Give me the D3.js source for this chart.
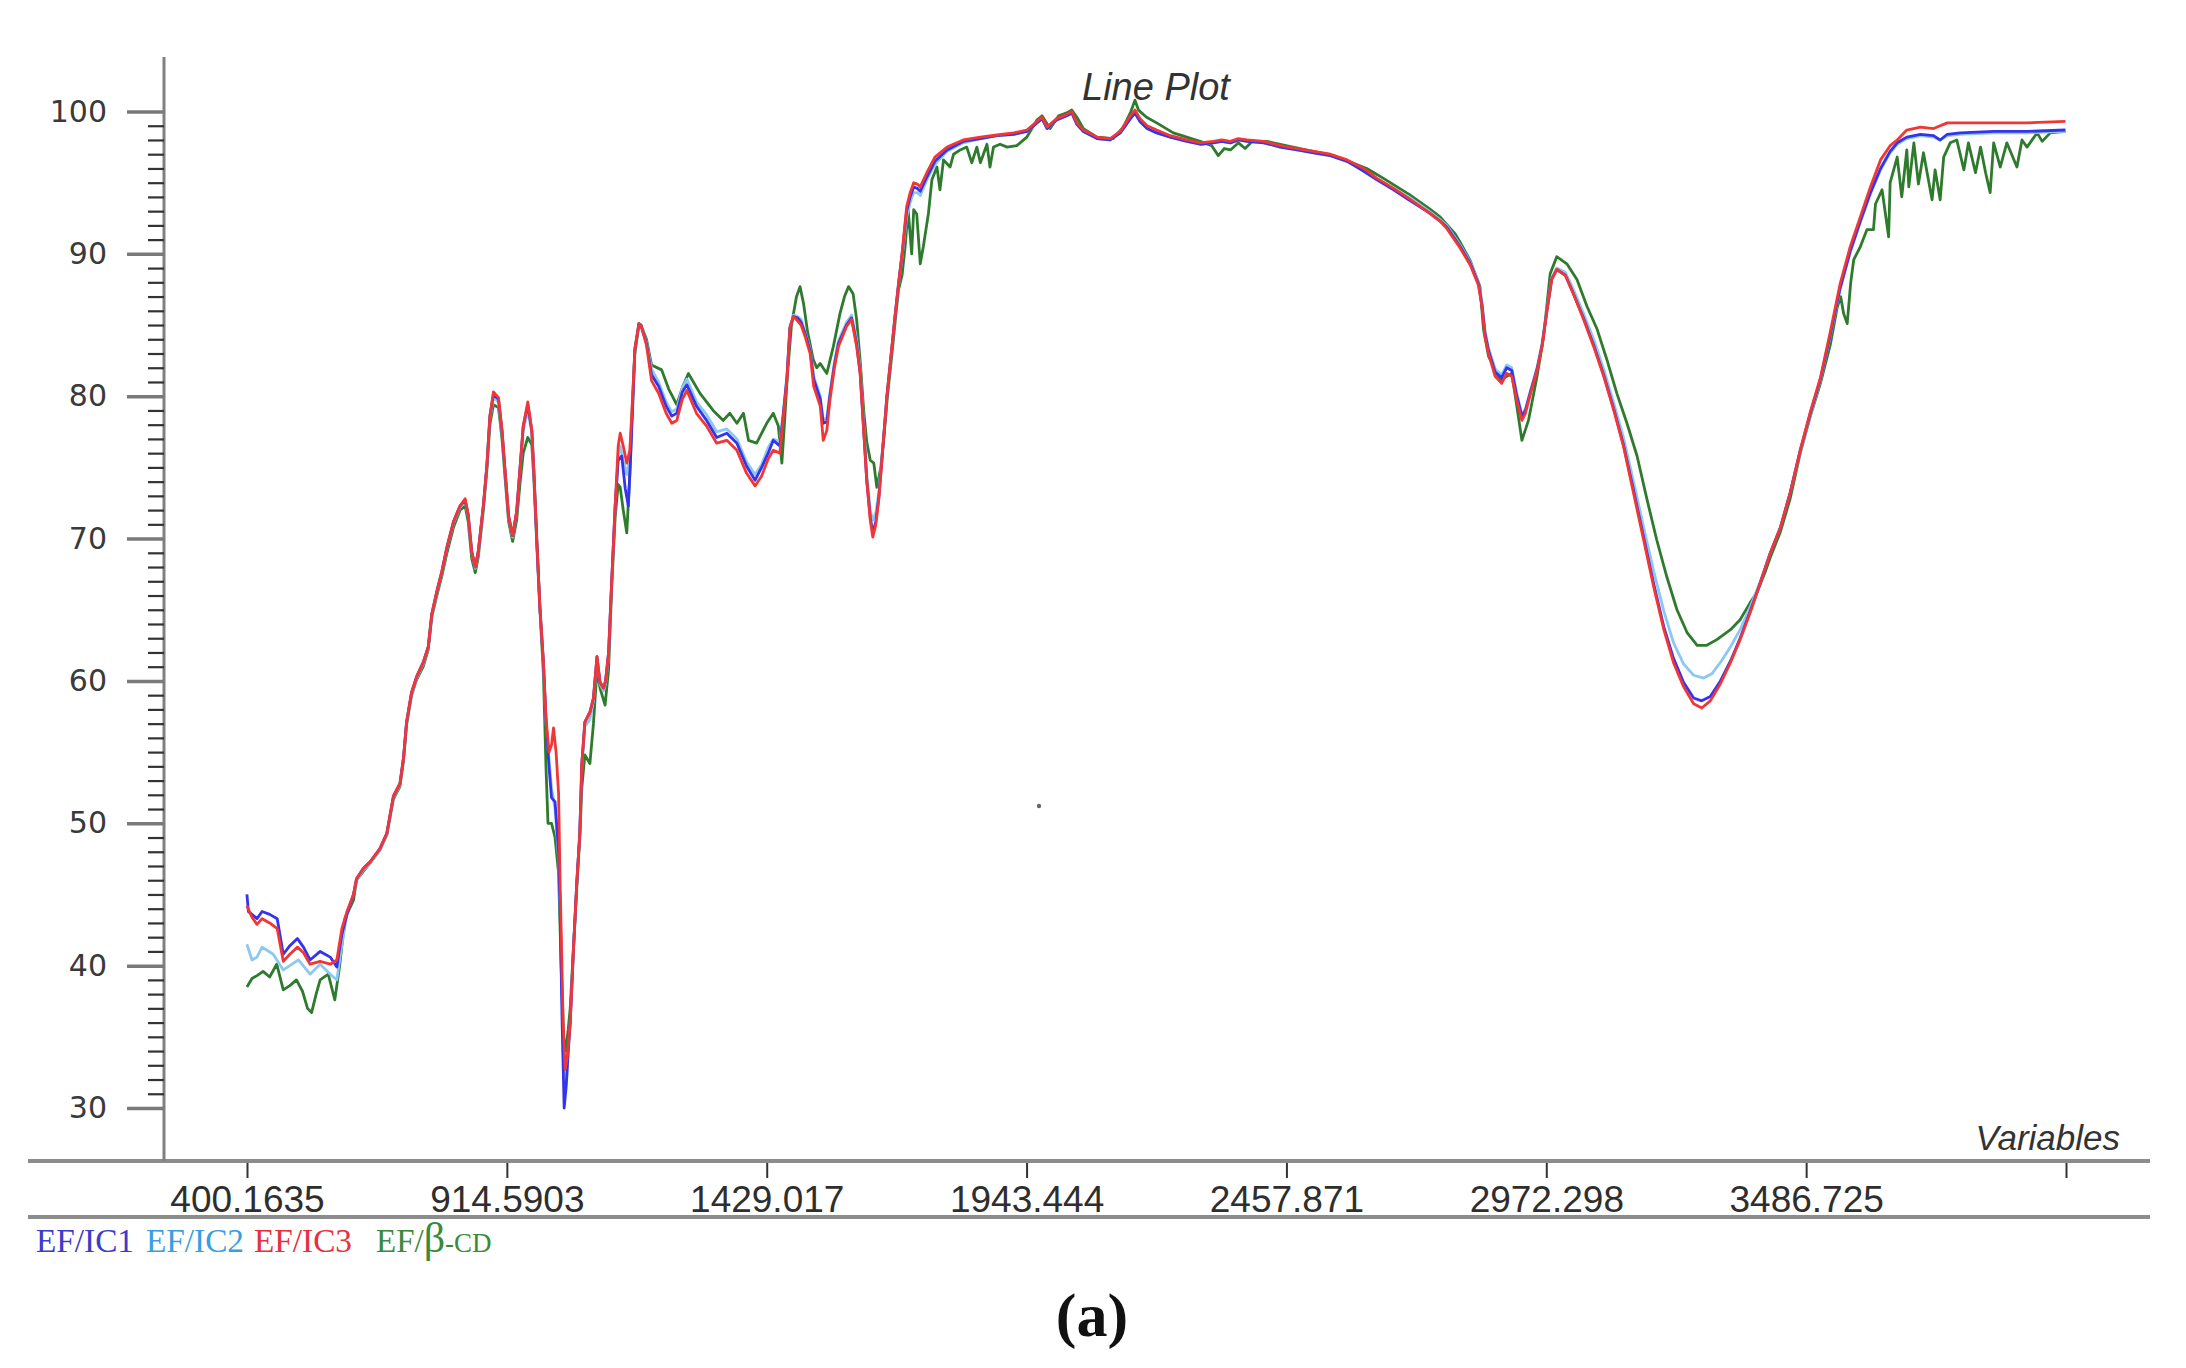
<!DOCTYPE html>
<html><head><meta charset="utf-8">
<script src="https://cdn.jsdelivr.net/npm/d3@7"></script>
<style>body{margin:0;background:#fff}svg{display:block}</style>
</head><body>
<svg id="chart" width="2186" height="1368"></svg>
<script>
// ---- data ----
const seriesNames = ["EF/IC1", "EF/IC2", "EF/IC3", "EF/β-CD"];
const xTickValues = [400.1635, 914.5903, 1429.0171, 1943.4439, 2457.8707, 2972.2975, 3486.7243, 4001.1511];
const xTickLabels = ["400.1635", "914.5903", "1429.017", "1943.444", "2457.871", "2972.298", "3486.725", ""];
const yMajorTicks = [30, 40, 50, 60, 70, 80, 90, 100];
const yMinorTicks = [31,32,33,34,35,36,37,38,39,41,42,43,44,45,46,47,48,49,51,52,53,54,55,56,57,58,59,61,62,63,64,65,66,67,68,69,71,72,73,74,75,76,77,78,79,81,82,83,84,85,86,87,88,89,91,92,93,94,95,96,97,98,99];

const ef_ic3 = [
[400,44.2],[410,43.4],[420,42.9],[430,43.3],[445,43.0],[460,42.6],[472,40.3],[485,40.8],[500,41.3],[512,40.9],[525,40.1],[545,40.3],[565,40.1],[578,40.4],[588,42.6],[598,43.8],[611,45.0],[617,46.1],[630,46.8],[644,47.3],[663,48.2],[677,49.3],[690,51.9],[703,52.8],[710,54.6],[716,57.1],[726,59.2],[736,60.3],[749,61.3],[759,62.4],[766,64.7],[776,66.3],[786,67.7],[796,69.4],[809,71.2],[822,72.3],[832,72.8],[838,71.7],[845,69.1],[852,68.0],[858,69.1],[868,72.3],[875,75.1],[881,78.6],[888,80.3],[898,79.9],[905,77.6],[911,74.8],[918,71.6],[926,70.2],[934,71.9],[941,75.1],[947,77.9],[956,79.6],[964,77.6],[968,74.8],[974,69.8],[980,65.2],[987,61.3],[992,57.4],[998,55.0],[1003,55.5],[1007,56.7],[1012,55.0],[1017,52.1],[1020,45.8],[1026,36.0],[1030,32.7],[1034,33.5],[1040,36.0],[1046,40.8],[1053,45.8],[1059,49.3],[1063,54.2],[1069,57.1],[1079,57.8],[1086,58.8],[1093,61.7],[1099,59.9],[1106,59.5],[1110,60.0],[1116,62.0],[1122,66.9],[1129,72.3],[1135,76.5],[1139,77.4],[1145,76.5],[1152,75.3],[1158,76.2],[1162,78.8],[1168,83.3],[1176,85.1],[1180,85.0],[1191,83.6],[1201,81.1],[1215,80.2],[1230,78.8],[1241,78.1],[1251,78.3],[1262,79.8],[1271,80.4],[1290,78.8],[1310,77.9],[1330,76.7],[1350,76.9],[1370,76.2],[1389,74.6],[1406,73.7],[1419,74.4],[1432,75.6],[1442,76.2],[1455,76.0],[1462,78.6],[1469,81.1],[1475,84.8],[1482,85.6],[1490,85.3],[1497,85.0],[1505,84.2],[1515,83.0],[1522,80.7],[1535,79.3],[1541,76.9],[1548,77.6],[1554,79.7],[1563,82.0],[1571,83.5],[1587,84.9],[1597,85.4],[1607,83.5],[1614,81.6],[1621,77.6],[1627,74.1],[1634,71.3],[1639,70.1],[1645,71.0],[1651,72.8],[1657,75.5],[1667,80.0],[1677,83.5],[1683,85.6],[1690,87.9],[1697,90.0],[1706,93.3],[1713,94.3],[1720,95.0],[1727,94.9],[1733,94.7],[1746,95.7],[1762,96.8],[1786,97.5],[1818,98.0],[1852,98.2],[1885,98.35],[1918,98.5],[1944,98.7],[1964,99.3],[1974,99.6],[1984,98.9],[2003,99.5],[2023,99.8],[2033,100.0],[2043,99.2],[2056,98.7],[2083,98.2],[2109,98.1],[2129,98.6],[2149,99.7],[2158,100.1],[2168,99.5],[2182,99.0],[2201,98.7],[2228,98.3],[2261,98.0],[2287,97.8],[2313,97.9],[2330,98.0],[2347,97.9],[2363,98.1],[2380,98.0],[2413,97.9],[2446,97.6],[2479,97.4],[2512,97.2],[2545,97.0],[2578,96.6],[2611,96.0],[2637,95.3],[2670,94.6],[2700,93.9],[2740,92.9],[2762,92.3],[2775,91.8],[2802,90.4],[2822,89.2],[2838,87.8],[2845,86.3],[2851,84.2],[2858,83.0],[2871,81.4],[2884,80.9],[2894,81.6],[2904,81.4],[2914,79.7],[2924,78.3],[2931,78.8],[2941,80.2],[2954,81.8],[2964,83.5],[2974,86.1],[2983,88.2],[2993,88.9],[3010,88.5],[3026,87.2],[3046,85.4],[3066,83.5],[3086,81.4],[3106,79.0],[3125,76.5],[3145,73.2],[3165,69.9],[3185,66.6],[3205,63.6],[3224,61.3],[3244,59.6],[3264,58.4],[3280,58.1],[3297,58.6],[3317,59.8],[3337,61.3],[3356,62.9],[3376,64.8],[3396,66.9],[3416,69.0],[3436,70.8],[3455,73.2],[3475,76.2],[3495,78.9],[3515,81.3],[3535,84.6],[3554,87.9],[3574,90.5],[3594,92.6],[3614,94.7],[3634,96.6],[3653,97.6],[3667,98.0],[3686,98.7],[3713,98.9],[3739,98.8],[3766,99.2],[3792,99.2],[3858,99.2],[3924,99.2],[4000,99.3]
];

const ef_ic1 = [
[400,45.0],[403,43.8],[410,43.6],[420,43.3],[430,43.8],[445,43.6],[460,43.3],[472,40.8],[485,41.4],[500,41.9],[512,41.3],[525,40.4],[545,41.0],[565,40.6],[578,39.9],[588,42.2],[598,43.6],[611,45.0],[617,46.1],[630,46.8],[644,47.3],[663,48.2],[677,49.3],[690,51.9],[703,52.8],[710,54.6],[716,57.1],[726,59.2],[736,60.3],[749,61.3],[759,62.4],[766,64.7],[776,66.3],[786,67.7],[796,69.4],[809,71.2],[822,72.3],[832,72.7],[838,71.7],[845,69.1],[852,68.0],[858,69.1],[868,72.3],[875,75.1],[881,78.6],[888,80.1],[898,79.8],[905,77.6],[911,74.8],[918,71.6],[926,70.2],[934,71.9],[941,75.1],[947,77.9],[956,79.4],[964,77.6],[968,74.8],[974,69.8],[980,65.2],[987,61.3],[992,57.4],[998,54.0],[1003,51.8],[1010,51.5],[1017,48.0],[1020,44.0],[1024,36.0],[1028,30.0],[1032,31.5],[1036,34.0],[1040,36.0],[1046,40.8],[1053,45.8],[1059,49.3],[1063,54.2],[1069,57.1],[1079,57.8],[1086,58.8],[1093,61.7],[1099,59.9],[1106,59.5],[1110,60.0],[1116,62.0],[1122,66.9],[1129,72.3],[1135,75.5],[1142,75.8],[1149,73.5],[1155,72.3],[1160,76.0],[1164,79.5],[1168,83.3],[1176,85.1],[1180,85.0],[1191,83.7],[1201,81.5],[1215,80.7],[1230,79.3],[1241,78.6],[1251,78.8],[1262,80.3],[1271,80.8],[1290,79.3],[1310,78.3],[1330,77.1],[1350,77.4],[1370,76.7],[1389,75.1],[1406,74.1],[1419,75.0],[1432,76.0],[1442,76.9],[1455,76.5],[1462,78.8],[1469,81.3],[1475,84.8],[1482,85.6],[1490,85.5],[1497,85.2],[1505,84.4],[1515,83.2],[1522,81.2],[1535,79.8],[1541,78.1],[1548,78.2],[1554,80.0],[1563,82.2],[1571,83.7],[1587,85.0],[1597,85.5],[1607,83.7],[1614,81.6],[1621,77.6],[1627,74.1],[1634,71.5],[1639,70.4],[1645,71.2],[1651,72.9],[1657,75.5],[1667,80.0],[1677,83.5],[1683,85.6],[1690,87.9],[1697,90.0],[1706,93.0],[1713,94.0],[1720,94.7],[1727,94.6],[1733,94.4],[1746,95.4],[1762,96.5],[1786,97.3],[1818,97.9],[1852,98.1],[1885,98.3],[1918,98.4],[1944,98.6],[1964,99.2],[1974,99.5],[1984,98.8],[2003,99.4],[2023,99.7],[2033,99.9],[2043,99.1],[2056,98.6],[2083,98.1],[2109,98.0],[2129,98.5],[2149,99.5],[2158,99.9],[2168,99.3],[2182,98.8],[2201,98.5],[2228,98.2],[2261,97.9],[2287,97.7],[2313,97.8],[2330,97.9],[2347,97.8],[2363,98.0],[2380,97.9],[2413,97.8],[2446,97.5],[2479,97.3],[2512,97.1],[2545,96.9],[2578,96.5],[2611,95.8],[2637,95.2],[2670,94.5],[2700,93.8],[2740,92.9],[2762,92.3],[2775,91.9],[2802,90.5],[2822,89.3],[2838,87.9],[2845,86.4],[2851,84.4],[2858,83.2],[2871,81.7],[2884,81.3],[2894,82.0],[2904,81.8],[2914,80.0],[2924,78.6],[2931,79.0],[2941,80.3],[2954,81.9],[2964,83.6],[2974,86.1],[2983,88.2],[2993,88.9],[3010,88.5],[3026,87.2],[3046,85.5],[3066,83.6],[3086,81.5],[3106,79.1],[3125,76.6],[3145,73.4],[3165,70.1],[3185,66.8],[3205,63.8],[3224,61.6],[3244,59.9],[3264,58.8],[3280,58.6],[3297,58.9],[3317,60.0],[3337,61.4],[3356,63.0],[3376,64.9],[3396,66.9],[3416,69.0],[3436,70.8],[3455,73.2],[3475,76.2],[3495,78.8],[3515,81.2],[3535,84.4],[3554,87.6],[3574,90.2],[3594,92.3],[3614,94.3],[3634,96.0],[3653,97.2],[3667,97.8],[3686,98.2],[3713,98.4],[3739,98.3],[3752,98.0],[3766,98.4],[3792,98.5],[3858,98.6],[3924,98.6],[4000,98.7]
];

const ef_ic2 = [
[400,41.5],[410,40.4],[420,40.6],[430,41.3],[452,40.8],[472,39.7],[485,40.0],[502,40.4],[525,39.4],[545,40.1],[565,39.4],[578,39.0],[588,41.5],[598,43.6],[611,45.0],[617,46.0],[630,46.7],[644,47.2],[663,48.1],[677,49.2],[690,51.8],[703,52.7],[710,54.5],[716,57.0],[726,59.1],[736,60.2],[749,61.2],[759,62.3],[766,64.6],[776,66.2],[786,67.6],[796,69.3],[809,71.1],[822,72.2],[832,72.6],[838,71.6],[845,69.0],[852,67.9],[858,69.0],[868,72.2],[875,75.0],[881,78.4],[888,79.9],[898,79.6],[905,77.4],[911,74.7],[918,71.5],[926,70.1],[934,71.8],[941,75.0],[947,77.6],[956,79.0],[964,77.4],[968,74.7],[974,69.7],[980,65.1],[987,61.2],[992,57.2],[998,54.5],[1003,52.5],[1010,51.0],[1017,47.5],[1022,42.0],[1026,34.0],[1029,31.2],[1033,32.0],[1040,36.0],[1046,40.8],[1053,45.8],[1059,49.3],[1063,54.0],[1069,56.8],[1079,57.3],[1086,58.6],[1093,61.5],[1099,59.8],[1106,59.3],[1110,59.8],[1116,61.8],[1122,66.8],[1129,72.2],[1135,75.8],[1139,76.5],[1145,75.5],[1152,74.5],[1158,75.8],[1162,78.7],[1168,83.3],[1176,85.1],[1180,85.0],[1191,83.8],[1201,81.9],[1215,81.0],[1230,79.6],[1241,78.9],[1251,79.1],[1262,80.6],[1271,81.2],[1290,79.6],[1310,78.7],[1330,77.5],[1350,77.7],[1370,77.0],[1389,75.4],[1406,74.5],[1419,75.2],[1432,76.4],[1442,77.0],[1455,76.8],[1462,78.9],[1469,81.4],[1475,84.9],[1482,85.7],[1490,85.6],[1497,85.4],[1505,84.5],[1515,83.3],[1522,81.4],[1535,80.0],[1541,78.3],[1548,78.5],[1554,80.2],[1563,82.4],[1571,83.9],[1587,85.2],[1597,85.7],[1607,84.0],[1614,81.9],[1621,78.0],[1627,74.6],[1634,72.0],[1639,71.3],[1645,71.8],[1651,73.3],[1657,75.8],[1667,80.0],[1677,83.5],[1683,85.6],[1690,87.8],[1697,89.8],[1706,92.6],[1713,93.6],[1720,94.3],[1727,94.3],[1733,94.1],[1746,95.2],[1762,96.3],[1786,97.2],[1818,97.8],[1852,98.1],[1885,98.3],[1918,98.4],[1944,98.6],[1964,99.2],[1974,99.5],[1984,98.8],[2003,99.4],[2023,99.7],[2033,99.9],[2043,99.1],[2056,98.6],[2083,98.1],[2109,98.0],[2129,98.5],[2149,99.5],[2158,99.9],[2168,99.3],[2182,98.8],[2201,98.5],[2228,98.2],[2261,97.9],[2287,97.7],[2313,97.8],[2330,97.9],[2347,97.8],[2363,98.0],[2380,97.9],[2413,97.8],[2446,97.5],[2479,97.3],[2512,97.1],[2545,96.9],[2578,96.5],[2611,95.9],[2637,95.3],[2670,94.6],[2700,94.0],[2740,93.0],[2762,92.4],[2775,92.0],[2802,90.6],[2822,89.4],[2838,88.0],[2845,86.6],[2851,84.6],[2858,83.4],[2871,81.9],[2884,81.5],[2894,82.2],[2904,82.0],[2914,80.2],[2924,78.7],[2931,79.1],[2941,80.4],[2954,82.0],[2964,83.7],[2974,86.2],[2983,88.3],[2993,89.0],[3010,88.7],[3026,87.5],[3046,85.8],[3066,84.0],[3086,81.9],[3106,79.5],[3125,77.1],[3145,74.0],[3165,70.8],[3185,67.7],[3205,64.9],[3224,62.7],[3244,61.2],[3264,60.4],[3284,60.2],[3300,60.5],[3317,61.3],[3337,62.4],[3356,63.6],[3376,65.2],[3396,67.0],[3416,69.0],[3436,70.8],[3455,73.2],[3475,76.1],[3495,78.7],[3515,81.1],[3535,84.3],[3554,87.5],[3574,90.1],[3594,92.2],[3614,94.2],[3634,95.9],[3653,97.1],[3667,97.7],[3686,98.1],[3713,98.3],[3739,98.2],[3752,98.0],[3766,98.3],[3792,98.4],[3858,98.5],[3924,98.5],[4000,98.6]
];

const ef_bcd = [
[400,38.5],[410,39.1],[420,39.3],[432,39.6],[445,39.2],[459,40.1],[472,38.3],[485,38.6],[498,39.0],[510,38.2],[520,37.0],[528,36.7],[537,38.0],[545,39.0],[561,39.4],[574,37.6],[584,40.1],[594,43.3],[611,44.6],[617,46.0],[630,46.6],[644,47.2],[663,48.1],[677,49.2],[690,51.7],[703,52.6],[710,54.4],[716,56.9],[726,59.0],[736,60.1],[749,61.0],[759,62.2],[766,64.5],[776,66.0],[786,67.4],[796,69.0],[809,70.8],[822,72.0],[832,72.3],[838,71.2],[845,68.6],[852,67.6],[858,68.7],[868,72.0],[875,74.8],[881,78.0],[888,79.4],[898,79.2],[905,77.0],[911,74.3],[918,71.2],[926,69.8],[934,71.3],[941,74.0],[947,76.0],[956,77.1],[964,76.6],[968,74.2],[974,69.5],[980,65.0],[987,60.5],[992,54.0],[996,50.0],[1003,50.0],[1010,49.0],[1017,46.5],[1022,40.0],[1027,35.0],[1031,34.0],[1036,35.5],[1040,37.0],[1046,41.0],[1053,45.5],[1059,49.0],[1063,52.5],[1069,54.8],[1079,54.2],[1086,57.0],[1093,60.8],[1099,59.5],[1109,58.3],[1116,60.8],[1122,66.5],[1129,71.5],[1135,73.8],[1139,73.6],[1145,72.0],[1152,70.4],[1158,74.5],[1162,78.5],[1168,83.0],[1176,85.0],[1180,85.0],[1191,84.0],[1201,82.2],[1221,81.85],[1235,80.5],[1251,79.4],[1262,80.6],[1274,81.6],[1297,80.2],[1323,79.0],[1343,78.3],[1356,78.8],[1370,78.1],[1383,78.8],[1393,76.9],[1409,76.7],[1429,78.1],[1442,78.8],[1452,77.9],[1459,75.3],[1464,78.0],[1470,81.5],[1478,85.0],[1488,87.0],[1495,87.7],[1502,86.5],[1510,84.5],[1517,83.3],[1521,82.6],[1528,82.0],[1535,82.3],[1548,81.6],[1561,83.5],[1574,85.8],[1583,87.0],[1591,87.7],[1600,87.2],[1607,85.4],[1614,82.5],[1621,79.0],[1627,76.8],[1634,75.5],[1641,75.3],[1647,73.6],[1655,75.0],[1662,77.5],[1668,80.0],[1677,83.0],[1684,85.5],[1690,87.5],[1697,88.5],[1703,90.5],[1709,93.1],[1716,90.0],[1720,93.1],[1726,92.8],[1733,89.3],[1739,90.5],[1749,92.8],[1756,95.2],[1766,96.1],[1772,94.5],[1779,96.6],[1792,96.1],[1799,97.0],[1812,97.3],[1825,97.5],[1835,96.4],[1845,97.5],[1852,96.4],[1865,97.7],[1871,96.1],[1878,97.5],[1891,97.7],[1905,97.5],[1924,97.6],[1944,98.2],[1964,99.4],[1974,99.7],[1990,98.8],[2007,99.7],[2023,99.9],[2033,100.1],[2043,99.6],[2056,98.8],[2083,98.2],[2115,98.1],[2135,98.9],[2150,100.0],[2158,100.8],[2165,100.1],[2181,99.6],[2201,99.2],[2234,98.5],[2287,97.9],[2310,97.6],[2323,96.9],[2335,97.4],[2347,97.3],[2363,97.8],[2376,97.4],[2390,97.9],[2419,97.9],[2485,97.4],[2551,96.9],[2617,96.0],[2650,95.3],[2700,94.2],[2740,93.2],[2762,92.6],[2792,91.4],[2802,90.8],[2822,89.5],[2841,87.7],[2848,84.7],[2858,82.8],[2868,82.1],[2881,81.1],[2894,81.4],[2904,81.6],[2914,79.3],[2924,76.9],[2937,78.3],[2954,81.4],[2967,84.2],[2980,88.6],[2993,89.8],[3013,89.3],[3033,88.2],[3053,86.3],[3073,84.7],[3092,82.6],[3112,80.2],[3132,78.1],[3152,75.8],[3172,72.7],[3191,69.9],[3211,67.3],[3231,65.0],[3251,63.4],[3271,62.5],[3290,62.5],[3310,62.9],[3337,63.6],[3356,64.3],[3376,65.5],[3389,66.2],[3405,67.6],[3416,68.7],[3436,70.5],[3455,72.8],[3475,76.0],[3495,78.6],[3515,80.9],[3535,83.7],[3548,86.2],[3555,87.0],[3561,85.8],[3568,85.1],[3575,88.0],[3581,89.6],[3594,90.5],[3607,91.7],[3620,91.7],[3624,93.5],[3637,94.5],[3650,91.2],[3653,95.0],[3667,96.8],[3676,94.0],[3686,97.3],[3690,94.7],[3700,97.8],[3709,94.9],[3719,97.1],[3736,93.8],[3742,95.9],[3752,93.8],[3759,96.8],[3772,97.8],[3785,98.0],[3799,95.9],[3808,97.8],[3822,95.7],[3832,97.5],[3842,95.7],[3851,94.3],[3858,97.8],[3871,96.1],[3884,97.8],[3904,96.1],[3914,98.0],[3924,97.5],[3944,98.5],[3954,97.9],[3970,98.5],[4000,98.6]
];

// ---- drawing ----
const svg = d3.select("#chart");
const x = d3.scaleLinear().domain([400.1635, 4001.1511]).range([247, 2066]);
const y = d3.scaleLinear().domain([30, 100]).range([1108, 111.5]);

// horizontal frame lines
[1161, 1217].forEach(yy => {
  svg.append("line").attr("x1", 28).attr("x2", 2150).attr("y1", yy).attr("y2", yy)
    .attr("stroke", "#8c8c8c").attr("stroke-width", 4);
});

// y axis line
svg.append("line").attr("x1", 164).attr("x2", 164).attr("y1", 57).attr("y2", 1161)
  .attr("stroke", "#808080").attr("stroke-width", 3);

// y minor ticks
const yMinor = svg.append("g").attr("transform", "translate(164,0)")
  .call(d3.axisLeft(y).tickValues(yMinorTicks).tickSize(16).tickFormat(""));
yMinor.select(".domain").remove();
yMinor.selectAll(".tick line").attr("stroke", "#333").attr("stroke-width", 2.2);

// y major ticks
const yMajor = svg.append("g").attr("transform", "translate(164,0)")
  .call(d3.axisLeft(y).tickValues(yMajorTicks).tickSize(37).tickPadding(20).tickFormat(d3.format("d")));
yMajor.select(".domain").remove();
yMajor.selectAll(".tick line").attr("stroke", "#7a7a7a").attr("stroke-width", 3.5);
yMajor.selectAll(".tick text").attr("font-family", "DejaVu Sans, sans-serif")
  .attr("font-size", 30).attr("fill", "#3a3a3a");

// x axis ticks + labels
const xAx = svg.append("g").attr("transform", "translate(0,1163)")
  .call(d3.axisBottom(x).tickValues(xTickValues).tickSize(15).tickPadding(8)
    .tickFormat((d, i) => xTickLabels[i]));
xAx.select(".domain").remove();
xAx.selectAll(".tick line").attr("stroke", "#333").attr("stroke-width", 2);
xAx.selectAll(".tick text").attr("font-family", "Liberation Sans, Arial, sans-serif")
  .attr("font-size", 37).attr("fill", "#2e2e2e");

// spectra
const line = d3.line().x(d => x(d[0])).y(d => y(d[1]));
const series = [
  {name: seriesNames[3], data: ef_bcd, color: "#2e7b2e"},
  {name: seriesNames[1], data: ef_ic2, color: "#8cc8f2"},
  {name: seriesNames[0], data: ef_ic1, color: "#3434ee"},
  {name: seriesNames[2], data: ef_ic3, color: "#f23636"}
];
svg.append("g").selectAll("path").data(series).join("path")
  .attr("d", s => line(s.data)).attr("fill", "none")
  .attr("stroke", s => s.color).attr("stroke-width", 2.8)
  .attr("stroke-linejoin", "round");

// stray dot
svg.append("circle").attr("cx", 1039).attr("cy", 806).attr("r", 2.2).attr("fill", "#666");

// titles
svg.append("text").attr("x", 1156).attr("y", 100).attr("text-anchor", "middle")
  .attr("font-family", "Liberation Sans, Arial, sans-serif").attr("font-style", "italic")
  .attr("font-size", 38).attr("fill", "#333").text("Line Plot");
svg.append("text").attr("x", 2120).attr("y", 1150).attr("text-anchor", "end")
  .attr("font-family", "Liberation Sans, Arial, sans-serif").attr("font-style", "italic")
  .attr("font-size", 35).attr("fill", "#333").text("Variables");

// legend
const legendColors = ["#3c3cc8", "#3a9ee0", "#e8303c", "#3a8a3a"];
const legendX = [36, 146, 254, 376];
const lg = svg.append("g").attr("font-family", "Liberation Serif, Times New Roman, serif");
[0, 1, 2].forEach(i => {
  lg.append("text").attr("x", legendX[i]).attr("y", 1252).attr("font-size", 33)
    .attr("textLength", 98).attr("lengthAdjust", "spacingAndGlyphs")
    .attr("fill", legendColors[i]).text(seriesNames[i]);
});
const t4 = lg.append("text").attr("x", legendX[3]).attr("y", 1252).attr("font-size", 33)
  .attr("fill", legendColors[3]);
t4.append("tspan").text("EF/");
t4.append("tspan").attr("font-size", 42).text("β");
t4.append("tspan").attr("font-size", 27).text("-CD");

// panel label
svg.append("text").attr("x", 1092).attr("y", 1336).attr("text-anchor", "middle")
  .attr("font-family", "Liberation Serif, Times New Roman, serif").attr("font-weight", "bold")
  .attr("font-size", 62).attr("fill", "#111").text("(a)");
</script>
</body></html>
